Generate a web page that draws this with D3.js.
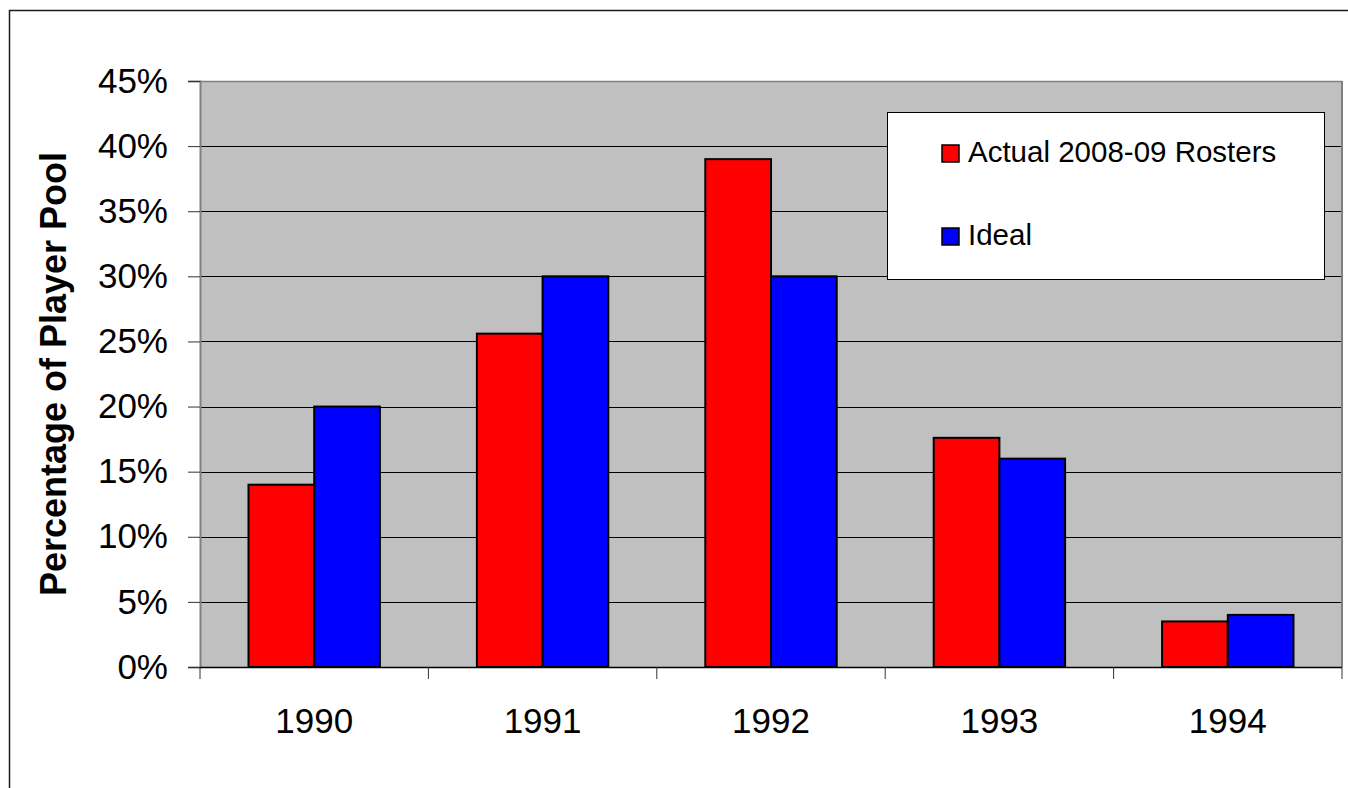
<!DOCTYPE html>
<html>
<head>
<meta charset="utf-8">
<script src="https://cdn.jsdelivr.net/npm/d3@7"></script>
<style>
  html, body { margin: 0; padding: 0; background: #fff; }
  svg { display: block; }
  text { font-family: "Liberation Sans", Arial, sans-serif; fill: #000; }
</style>
</head>
<body>
<svg id="chart" width="1348" height="788"></svg>
<script>
const years = ["1990", "1991", "1992", "1993", "1994"];
const seriesNames = ["Actual 2008-09 Rosters", "Ideal"];
const seriesColors = ["#ff0000", "#0000ff"];
const actualValues = [0.14, 0.256, 0.39, 0.176, 0.035];
const idealValues = [0.20, 0.30, 0.30, 0.16, 0.04];
const yTicks = [0, 0.05, 0.10, 0.15, 0.20, 0.25, 0.30, 0.35, 0.40, 0.45];
const yTitle = "Percentage of Player Pool";

const svg = d3.select("#chart");
const W = 1348, H = 788;
const plot = { left: 200, right: 1342, top: 81, bottom: 667 };

// outer chart border
svg.append("rect")
  .attr("x", 9.5).attr("y", 10.5)
  .attr("width", W + 20).attr("height", H + 20)
  .attr("fill", "#fff").attr("stroke", "#1a1a1a").attr("stroke-width", 1.5);

const y = d3.scaleLinear().domain([0, 0.45]).range([plot.bottom, plot.top]);
const x0 = d3.scaleBand().domain(years).range([plot.left, plot.right]).padding(0);
const pad = 48.5;
const x1 = d3.scaleBand().domain(seriesNames).range([pad, x0.bandwidth() - pad]).padding(0);

// plot area background
svg.append("rect")
  .attr("x", plot.left).attr("y", plot.top)
  .attr("width", plot.right - plot.left).attr("height", plot.bottom - plot.top)
  .attr("fill", "#c0c0c0");

// gridlines
svg.append("g").selectAll("line")
  .data(yTicks.filter(d => d > 0 && d < 0.45))
  .join("line")
  .attr("x1", plot.left).attr("x2", plot.right)
  .attr("y1", d => Math.round(y(d)) + 0.5).attr("y2", d => Math.round(y(d)) + 0.5)
  .attr("stroke", "#000").attr("stroke-width", 1);

// plot border (top/right gray)
svg.append("line")
  .attr("x1", plot.left).attr("x2", plot.right)
  .attr("y1", plot.top + 0.5).attr("y2", plot.top + 0.5)
  .attr("stroke", "#808080").attr("stroke-width", 1.5);
svg.append("line")
  .attr("x1", plot.right).attr("x2", plot.right)
  .attr("y1", plot.top).attr("y2", plot.bottom)
  .attr("stroke", "#808080").attr("stroke-width", 2);

// bars
const data = years.map((yr, i) => ({ year: yr, values: [actualValues[i], idealValues[i]] }));
const groups = svg.append("g").selectAll("g")
  .data(data).join("g")
  .attr("transform", d => `translate(${x0(d.year)},0)`);
groups.selectAll("rect")
  .data(d => d.values.map((v, j) => ({ name: seriesNames[j], v, color: seriesColors[j] })))
  .join("rect")
  .attr("x", d => x1(d.name))
  .attr("y", d => y(d.v))
  .attr("width", x1.bandwidth())
  .attr("height", d => plot.bottom - y(d.v))
  .attr("fill", d => d.color)
  .attr("stroke", "#000").attr("stroke-width", 2);

// left axis
const yAxis = d3.axisLeft(y).tickValues(yTicks).tickFormat(d3.format(".0%")).tickSize(12).tickPadding(20);
const gy = svg.append("g").attr("transform", `translate(${plot.left},0)`).call(yAxis);
gy.select(".domain").attr("stroke", "#808080").attr("stroke-width", 2);
gy.selectAll(".tick line").attr("stroke", "#333");
gy.selectAll(".tick text")
  .style("font-family", '"Liberation Sans", Arial, sans-serif')
  .style("font-size", "35px").attr("fill", "#000");

// bottom axis
const bx = svg.append("g").attr("transform", `translate(0,${plot.bottom})`);
bx.append("line")
  .attr("x1", plot.left).attr("x2", plot.right)
  .attr("y1", 0.5).attr("y2", 0.5)
  .attr("stroke", "#000").attr("stroke-width", 1.5);
const boundaries = years.map(d => x0(d)).concat([plot.right]);
bx.selectAll("line.tk").data(boundaries).join("line").attr("class", "tk")
  .attr("x1", d => d).attr("x2", d => d)
  .attr("y1", 0).attr("y2", 12)
  .attr("stroke", "#333").attr("stroke-width", 1);
bx.selectAll("text").data(years).join("text")
  .attr("x", d => x0(d) + x0.bandwidth() / 2)
  .attr("y", 66)
  .attr("text-anchor", "middle")
  .style("font-size", "35px")
  .text(d => d);

// y title
svg.append("text")
  .attr("transform", `translate(66,374) rotate(-90)`)
  .attr("text-anchor", "middle")
  .style("font-size", "36px").style("font-weight", "bold")
  .text(yTitle);

// legend
const lg = svg.append("g");
lg.append("rect")
  .attr("x", 887.5).attr("y", 112.5).attr("width", 437).attr("height", 167)
  .attr("fill", "#fff").attr("stroke", "#000").attr("stroke-width", 1);
const legendRows = [145, 228];
seriesNames.forEach((name, i) => {
  lg.append("rect")
    .attr("x", 942).attr("y", legendRows[i]).attr("width", 17).attr("height", 17)
    .attr("fill", seriesColors[i]).attr("stroke", "#000").attr("stroke-width", 1.5);
  lg.append("text")
    .attr("x", 968).attr("y", legendRows[i] + 17)
    .style("font-size", "29.5px")
    .text(name);
});
</script>
</body>
</html>
